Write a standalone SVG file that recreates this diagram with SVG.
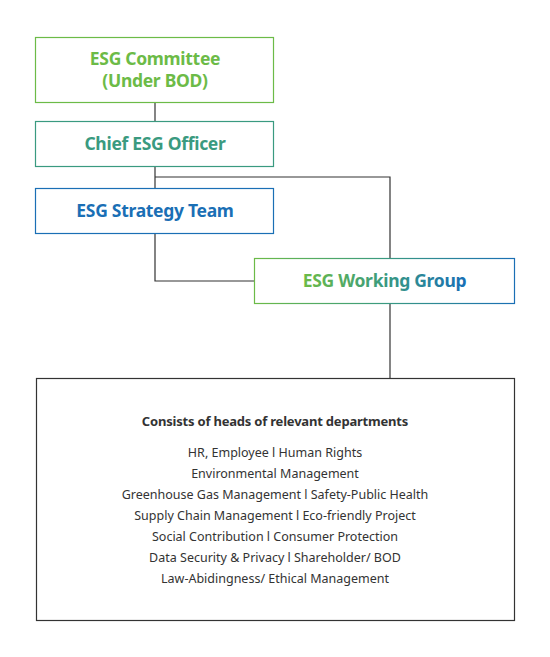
<svg xmlns="http://www.w3.org/2000/svg" width="550" height="657" viewBox="0 0 550 657">
<defs>
<linearGradient id="wg" x1="254" y1="0" x2="514" y2="0" gradientUnits="userSpaceOnUse">
<stop offset="0" stop-color="#6cbb47"/><stop offset="0.5" stop-color="#3a9a80"/><stop offset="1" stop-color="#1a6fb5"/>
</linearGradient>
<linearGradient id="wt" x1="303" y1="0" x2="466" y2="0" gradientUnits="userSpaceOnUse">
<stop offset="0" stop-color="#6cbb47"/><stop offset="0.5" stop-color="#3a9a80"/><stop offset="1" stop-color="#1a6fb5"/>
</linearGradient>
<style>
.box{fill:#fff;stroke-width:1.2}
.t{font-family:"Noto Sans","Open Sans",sans-serif;font-weight:700;font-size:17.5px;text-anchor:middle;letter-spacing:-0.3px}
.b{font-family:"Noto Sans","Open Sans",sans-serif;font-size:12.5px;fill:#333;text-anchor:middle}
.h{font-family:"Noto Sans","Open Sans",sans-serif;font-weight:700;font-size:13px;fill:#333;text-anchor:middle;letter-spacing:-0.2px}
.c{fill:none;stroke:#333;stroke-width:1.2}
</style>
</defs>
<g id="connectors">
<path class="c" d="M155 102V121"/>
<path class="c" d="M155 166V188"/>
<path class="c" d="M155 177H390V258"/>
<path class="c" d="M155 233V281H254"/>
<path class="c" d="M390 303V378"/>
</g>
<g id="committee">
<rect class="box" x="35.5" y="37.5" width="238" height="65" stroke="#6cbb47"/>
<text class="t" fill="#6cbb47"><tspan x="155" y="65">ESG Committee</tspan><tspan x="155" y="87">(Under BOD)</tspan></text>
</g>
<g id="cso">
<rect class="box" x="35.5" y="121.5" width="238" height="45" stroke="#3a9a80"/>
<text class="t" x="155" y="150" fill="#3a9a80">Chief ESG Officer</text>
</g>
<g id="strategy">
<rect class="box" x="35.5" y="188.5" width="238" height="45" stroke="#1a6fb5"/>
<text class="t" x="155" y="217" fill="#1a6fb5">ESG Strategy Team</text>
</g>
<g id="working">
<rect class="box" x="254.5" y="258.5" width="260" height="45" stroke="url(#wg)"/>
<text class="t" x="384.5" y="287" fill="url(#wt)">ESG Working Group</text>
</g>
<g id="departments">
<rect class="box" x="36.5" y="378.5" width="478" height="242" stroke="#333"/>
<text class="h" x="275" y="426">Consists of heads of relevant departments</text>
<text class="b" x="275" y="457">HR, Employee l Human Rights</text>
<text class="b" x="275" y="478">Environmental Management</text>
<text class="b" x="275" y="499">Greenhouse Gas Management l Safety-Public Health</text>
<text class="b" x="275" y="520">Supply Chain Management l Eco-friendly Project</text>
<text class="b" x="275" y="541">Social Contribution l Consumer Protection</text>
<text class="b" x="275" y="562">Data Security &amp; Privacy l Shareholder/ BOD</text>
<text class="b" x="275" y="583">Law-Abidingness/ Ethical Management</text>
</g>
</svg>
